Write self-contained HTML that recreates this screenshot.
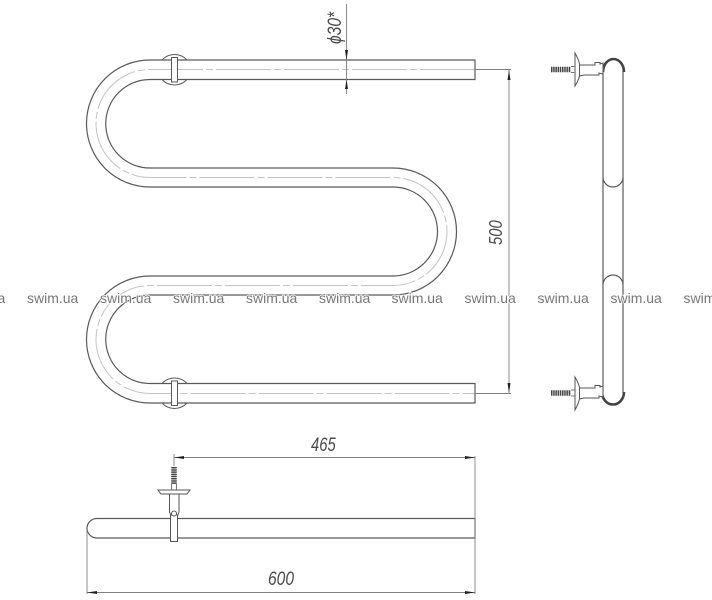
<!DOCTYPE html>
<html><head><meta charset="utf-8"><style>
html,body{margin:0;padding:0;background:#fff}
svg{display:block}
.o{fill:none;stroke:#5a5a5a;stroke-width:1.2}
.c{fill:none;stroke:#c4c4c4;stroke-width:1}
.d{fill:none;stroke:#808080;stroke-width:.9}
.t{font-family:"Liberation Sans",sans-serif;font-style:italic;font-size:19px;fill:#4a4a4a}
.w{font-family:"Liberation Sans",sans-serif;font-size:14px;fill:#777;paint-order:stroke;stroke:#fff;stroke-width:1.5px}
</style></head><body>
<svg width="712" height="600" viewBox="0 0 712 600" xmlns="http://www.w3.org/2000/svg">
<rect width="712" height="600" fill="#fff"/>
<!-- front tube centreline -->
<path class="c" stroke-dasharray="55 3 7 3" d="M475 69.5H150A54 54 0 0 0 150 177.5H393A54 54 0 0 1 393 285.5H150A54 54 0 0 0 150 393.5H475"/>
<!-- outer & inner -->
<path class="o" d="M475 60H150A63.500 63.500 0 0 0 150 187H393A44.500 44.500 0 0 1 393 276H150A63.500 63.500 0 0 0 150 403H475V383.500H150A44 44 0 0 1 150 295H393A63.500 63.500 0 0 0 393 168H150A44 44 0 0 1 150 79.500H475Z"/>
<!-- clips -->
<g fill="#fff" stroke="#5a5a5a" stroke-width="1">
<path d="M162 60A17 17 0 0 1 187 60" fill="none"/><path d="M162 79.500A17 17 0 0 0 187 79.500" fill="none"/>
<rect x="171.500" y="57.500" width="6" height="24.500"/>
<path d="M162 383.500A17 17 0 0 1 187 383.500" fill="none"/><path d="M162 403A17 17 0 0 0 187 403" fill="none"/>
<rect x="171.500" y="381" width="6" height="24.500"/>
</g>
<!-- dimensions -->
<path class="d" d="M346.500 4V94M475 69.500H511M475 393.500H511M509 69.500V393.500"/>
<path fill="#222" d="M346.500 60L345 50H348ZM346.500 79.500L345 89H348ZM509 70L507.500 80H510.500ZM509 393L507.500 383H510.500Z"/>
<text class="t" transform="translate(341 44) rotate(-90) scale(.82 1)">ϕ30*</text>
<text class="t" transform="translate(502 245) rotate(-90) scale(.78 .95)">500</text>
<!-- side view -->
<path class="o" d="M603 68V393M623 68V393M603 177A10 10 0 0 0 623 177M603 285A10 10 0 0 1 623 285"/>
<path fill="none" stroke="#444" stroke-width="2.600" d="M603 72A10.500 13 0 0 1 624 72"/>
<path fill="none" stroke="#444" stroke-width="2.600" d="M602 392A11 12.500 0 0 0 624 392"/>
<g fill="#fff" stroke="#555" stroke-width="1">
<path d="M575 53Q580 62 579.500 66V74Q580 78 575 86Z"/>
<path d="M579.500 65H595V62.500H600V64L603 63V74L599 73V75H584L579.500 76Z"/>
</g>
<path stroke="#444" stroke-width="5.500" stroke-dasharray="1.500 .7" d="M551 69.500H571"/>
<path fill="none" stroke="#777" d="M571 66.500H575M571 72.500H575"/>
<g fill="#fff" stroke="#555" stroke-width="1">
<path d="M575 377Q580 386 579.500 389V397Q580 401 575 410Z"/>
<path d="M579.500 388H595V385.500H600V387L603 386V397L599 396V398H584L579.500 399Z"/>
</g>
<path stroke="#444" stroke-width="5.500" stroke-dasharray="1.500 .7" d="M551 393H571"/>
<path fill="none" stroke="#777" d="M571 390H575M571 396H575"/>
<!-- bottom view -->
<path class="o" d="M97 518.500H475V538H97A10 9.750 0 0 1 97 518.500Z"/>
<path class="d" d="M174 454V466M174 457.500H475M475 456V594M87 530V594M87 592.500H475"/>
<path fill="#222" d="M174 457.500L184 456V459ZM475 457.500L465 456V459ZM87 592.500L97 591V594ZM475 592.500L465 591V594Z"/>
<g fill="#fff" stroke="#555" stroke-width="1">
<path d="M158 490H190L187 494H161Z"/>
<path d="M169.500 494H179V512L177.500 516H171L169.500 512Z"/>
<rect x="170.500" y="515" width="7" height="26.500"/>
<circle cx="174" cy="513.500" r="2.500"/>
</g>
<path stroke="#444" stroke-width="5.500" stroke-dasharray="1.500 .7" d="M174 467V484"/>
<path stroke="#777" fill="none" d="M171.500 484V490M176.500 484V490"/>
<text class="t" transform="translate(311 451) scale(.78 1)">465</text>
<text class="t" transform="translate(268 585) scale(.82 1)">600</text>
<!-- watermark -->
<g class="w">
<text x="-46" y="303">swim.ua</text><text x="27" y="303">swim.ua</text><text x="100" y="303">swim.ua</text><text x="173" y="303">swim.ua</text><text x="246" y="303">swim.ua</text><text x="319" y="303">swim.ua</text><text x="391.500" y="303">swim.ua</text><text x="464.500" y="303">swim.ua</text><text x="537.500" y="303">swim.ua</text><text x="610.500" y="303">swim.ua</text><text x="683.500" y="303">swim.ua</text>
</g>
</svg>
</body></html>
